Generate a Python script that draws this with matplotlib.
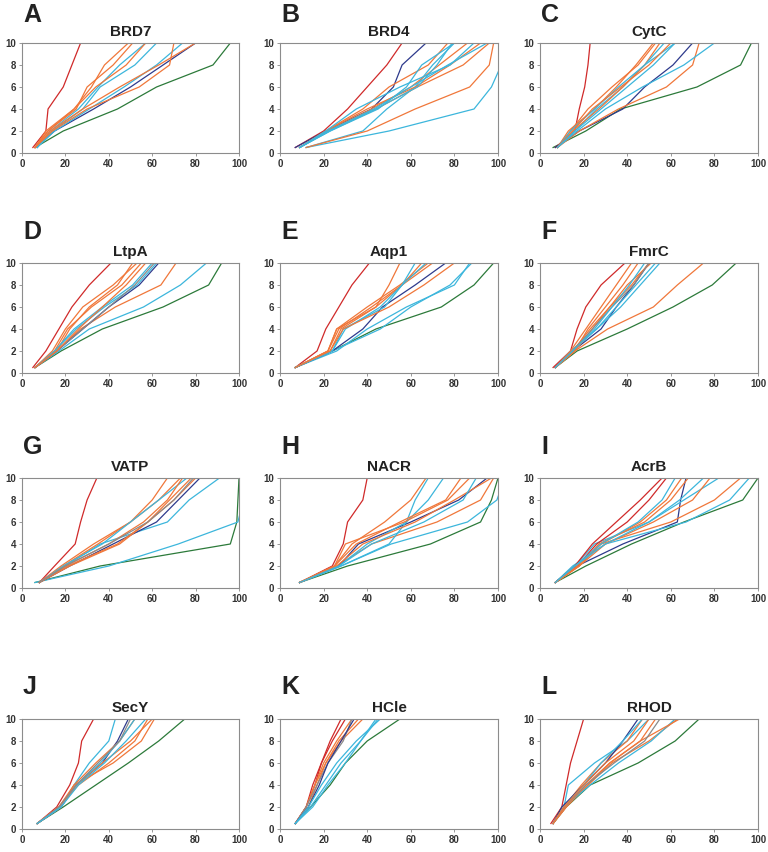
import matplotlib
matplotlib.use("Agg")
import matplotlib.pyplot as plt

plt.rcParams['font.family'] = ['Liberation Sans', 'DejaVu Sans']

# y levels shared by every curve; each curve lists the x reached at those levels
Y_LEVELS = [0.5, 2, 4, 6, 8, 10]

BRD7_X = [[5, 11, 12, 19, 23, 27], [6, 19, 44, 62, 88, 96], [6, 15, 33, 50, 65, 80],
          [7, 15, 31, 47, 62, 74], [7, 14, 28, 36, 52, 62], [7, 13, 26, 35, 45, 57],
          [6, 11, 24, 32, 38, 49], [6, 12, 25, 30, 42, 51], [6, 12, 24, 34, 48, 57],
          [6, 14, 30, 54, 68, 70], [6, 13, 28, 45, 63, 80]]
BRD7_C = "rgbcccooooo"

BRD4_X = [[7, 20, 31, 40, 49, 56], [7, 21, 42, 52, 56, 67], [12, 38, 49, 62, 70, 80],
          [12, 50, 89, 97, 101.5, 105.5], [12, 40, 62, 87, 96, 98], [9, 21, 38, 50, 68, 77],
          [9, 22, 42, 60, 73, 86], [9, 21, 40, 62, 78, 92], [9, 22, 44, 63, 84, 96],
          [9, 23, 45, 58, 65, 80], [9, 22, 43, 60, 77, 95], [9, 23, 44, 63, 72, 79],
          [9, 21, 35, 55, 78, 89]]
BRD4_C = "rbccooooocccco"

CYTC_X = [[7, 16, 18, 20.5, 22, 23], [6, 21, 37, 72, 92, 97], [7, 18, 38, 48, 61, 70],
          [8, 18, 36, 58, 70, 73], [8, 17, 30, 47, 66, 80], [8, 16, 26, 38, 48, 62],
          [8, 13, 25, 35, 44, 52], [8, 14, 22, 33, 45, 53], [8, 15, 27, 38, 48, 55],
          [8, 14, 25, 36, 48, 57], [8, 15, 24, 37, 50, 60], [8, 16, 28, 40, 52, 62]]
CYTC_C = "rgboccooococ"

LTPA_X = [[5, 11, 17, 23, 31, 41], [6, 18, 37, 65, 86, 92], [6, 17, 31, 56, 73, 85],
          [6, 16, 27, 43, 64, 71], [6, 16, 28, 40, 54, 63], [6, 15, 25, 38, 53, 62],
          [6, 16, 22, 31, 44, 51], [6, 15, 21, 32, 46, 55], [6, 14, 20, 28, 42, 53],
          [6, 15, 24, 37, 51, 60], [6, 16, 28, 40, 52, 61], [6, 16, 26, 37, 48, 57]]
LTPA_C = "rgcobcooocko"

AQP1_X = [[7, 17, 21, 27, 33, 41], [7, 24, 44, 74, 89, 98], [7, 24, 46, 60, 78, 88],
          [7, 26, 40, 58, 80, 87], [7, 24, 38, 47, 62, 76], [7, 22, 26, 44, 50, 55],
          [7, 22, 27, 42, 56, 70], [7, 22, 26, 40, 55, 68], [7, 23, 28, 44, 56, 65],
          [7, 24, 29, 48, 56, 67], [7, 24, 30, 46, 56, 62], [7, 23, 29, 50, 66, 80]]
AQP1_C = "rgccboooocco"

FMRC_X = [[6, 14, 17, 21, 28, 39], [7, 17, 40, 61, 79, 90], [7, 16, 31, 52, 63, 75],
          [7, 15, 28, 35, 43, 50], [7, 15, 26, 37, 46, 55], [7, 14, 26, 35, 44, 53],
          [7, 16, 22, 30, 38, 45], [7, 14, 21, 28, 35, 42], [7, 15, 23, 32, 40, 51],
          [7, 16, 24, 32, 42, 50], [7, 15, 24, 33, 43, 50], [7, 15, 25, 33, 41, 48]]
FMRC_C = "rgobccooookc"

VATP_X = [[8, 15, 24.5, 27, 30, 34.5], [6, 36, 96, 99, 99.5, 100], [6, 40, 72, 99.5, 102, 105],
          [8, 20, 36, 67, 77, 91], [8, 19, 35, 50, 60, 67], [8, 18, 33, 50, 63, 73],
          [8, 19, 37, 50, 63, 76], [8, 22, 42, 62, 72, 82], [8, 22, 45, 58, 68, 78],
          [8, 20, 40, 56, 67, 74], [8, 21, 44, 58, 70, 80], [8, 20, 40, 58, 70, 79]]
VATP_C = "rgccoocboook"

NACR_X = [[9, 24, 29, 31, 38, 40], [9, 31, 69, 92, 97, 100], [9, 28, 51, 86, 99.5, 103],
          [9, 26, 42, 72, 92, 98], [9, 27, 36, 60, 82, 95], [9, 28, 50, 58, 62, 68],
          [9, 27, 40, 58, 68, 75], [9, 25, 35, 55, 76, 83], [9, 25, 33, 48, 60, 67],
          [9, 26, 38, 62, 80, 97], [9, 25, 30, 57, 77, 87], [9, 27, 42, 66, 84, 90]]
NACR_C = "rgcobccooooc"

ACRB_X = [[7, 21, 42, 66, 93, 100], [7, 17, 38, 63, 64.5, 67], [7, 15, 30, 67, 87, 96],
          [7, 18, 28, 60, 80, 92], [7, 16, 25, 50, 66, 82], [7, 16, 24, 35, 46, 56],
          [7, 17, 26, 40, 50, 58], [7, 18, 27, 48, 60, 68], [7, 17, 28, 46, 58, 65],
          [7, 16, 28, 45, 56, 62], [7, 18, 30, 52, 70, 78], [7, 16, 30, 50, 64, 75]]
ACRB_C = "gbcocrroococ"

SECY_X = [[7, 16, 22, 26, 27.5, 33], [7, 19, 34, 49, 63, 75], [7, 18, 24, 31, 40, 43],
          [7, 18, 25, 37, 44, 49], [7, 17, 24, 34, 45, 52], [7, 17, 25, 37, 50, 60],
          [7, 18, 24, 42, 55, 61], [7, 18, 25, 36, 45, 52], [7, 17, 26, 40, 52, 58],
          [7, 17, 25, 35, 45, 50], [7, 18, 26, 38, 48, 57]]
SECY_C = "rgcbooocokc"

HCLE_X = [[7, 12, 16, 19, 23, 28], [7, 12, 15, 19, 24, 30], [7, 12, 16, 20, 26, 33],
          [7, 13, 17, 21, 27, 36], [7, 12, 16, 21, 28, 38], [7, 12, 17, 22, 29, 33],
          [7, 13, 18, 22, 28, 34], [7, 13, 19, 26, 35, 46], [7, 14, 21, 28, 37, 45],
          [7, 15, 22, 30, 37, 44], [7, 14, 23, 30, 40, 55]]
HCLE_C = "rroookbcccg"

RHOD_X = [[5, 10, 12, 14, 17, 20], [6, 12, 23, 45, 62, 73], [6, 11, 13, 25, 40, 50],
          [6, 11, 19, 28, 40, 47], [6, 10, 20, 30, 38, 45], [6, 11, 20, 28, 38, 47],
          [6, 11, 22, 32, 46, 53], [6, 12, 22, 33, 50, 63], [6, 11, 23, 36, 51, 62],
          [6, 12, 21, 32, 46, 64], [6, 11, 21, 34, 48, 55], [6, 11, 20, 30, 43, 50]]
RHOD_C = "rgcobcoocoko"

LETTERS = list("ABCDEFGHIJKL")
TITLES = ["BRD7", "BRD4", "CytC", "LtpA", "Aqp1", "FmrC",
          "VATP", "NACR", "AcrB", "SecY", "HCle", "RHOD"]
CURVES = [BRD7_X, BRD4_X, CYTC_X, LTPA_X, AQP1_X, FMRC_X,
          VATP_X, NACR_X, ACRB_X, SECY_X, HCLE_X, RHOD_X]
CODES = [BRD7_C, BRD4_C, CYTC_C, LTPA_C, AQP1_C, FMRC_C,
         VATP_C, NACR_C, ACRB_C, SECY_C, HCLE_C, RHOD_C]

palette = {'r': '#d02a2a', 'o': '#f0773a', 'c': '#3cb6dc', 'b': '#2e3a8c',
           'g': '#2c7a3a', 'k': '#8a8a8a'}

W, H = 768, 852
fig = plt.figure(figsize=(W / 100, H / 100), dpi=100)

col_lr = [(22, 239), (280, 498), (540, 758)]
row_tb = [(43, 153), (263, 373), (478, 588), (719, 829)]
letter_y = [15, 232, 447, 687]

for i in range(12):
    r, c = divmod(i, 3)
    L, R = col_lr[c]
    T, B = row_tb[r]
    ax = fig.add_axes([L / W, 1 - B / H, (R - L) / W, (B - T) / H])
    # draw green first so the coloured bundle sits over it
    order = sorted(range(len(CURVES[i])), key=lambda k: CODES[i][k] != 'g')
    for k in order:
        ax.plot(CURVES[i][k], Y_LEVELS, color=palette[CODES[i][k]], lw=0.9)
    ax.set_xlim(0, 100)
    ax.set_ylim(0, 10)
    ax.set_xticks(range(0, 101, 20))
    ax.set_yticks(range(0, 11, 2))
    ax.tick_params(labelsize=7, length=2, width=0.6, colors='#888888',
                   labelcolor='#333333', pad=2)
    for lab in ax.get_xticklabels() + ax.get_yticklabels():
        lab.set_fontweight('bold')
    for sp in ax.spines.values():
        sp.set_color('#8c8c8c')
        sp.set_linewidth(0.8)
    fig.text((L + R) / 2 / W, 1 - (T - 11) / H, TITLES[i], ha='center', va='center',
             fontsize=11, fontweight='bold', color='#222222')
    fig.text((L + 1) / W, 1 - letter_y[r] / H, LETTERS[i], ha='left', va='center',
             fontsize=18, fontweight='bold', color='#222222')

fig.savefig("out.png", dpi=100)
